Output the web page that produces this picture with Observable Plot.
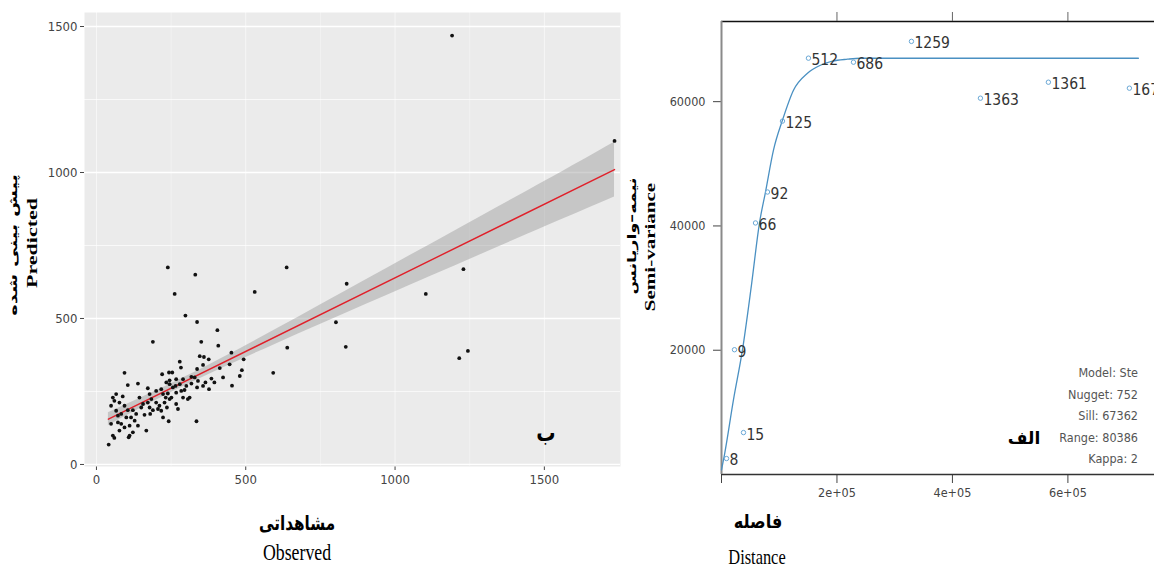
<!DOCTYPE html>
<html><head><meta charset="utf-8">
<script src="https://cdn.jsdelivr.net/npm/d3@7"></script>
<script src="https://cdn.jsdelivr.net/npm/@observablehq/plot@0.6"></script>
<style>
html,body{margin:0;padding:0;background:#fff;overflow:hidden;}
#wrap{position:relative;width:1154px;height:568px;overflow:hidden;background:#fff;}
.pl{position:absolute;top:0;}
.pl svg{max-width:none !important;overflow:visible;}
.t{position:absolute;white-space:nowrap;line-height:1;}
</style></head><body><div id="wrap"></div>
<script>
// ---------- Left panel: observed vs predicted ----------
const observed = [239,331,637,262,530,838,1229,1103,298,337,802,405,189,351,408,639,835,452,493,1215,1244,592,454,335,41,94,346,279,283,360,376,337,357,413,446,487,480,424,385,365,377,220,243,254,267,234,245,265,279,301,318,105,139,172,200,232,245,223,267,284,290,312,267,273,211,206,217,189,180,161,167,242,223,144,172,150,122,133,116,128,111,111,108,77,83,72,55,60,49,55,49,66,88,60,77,94,105,66,83,100,72,94,122,139,178,200,236,228,251,306,295,239,256,217,178,156,184,340,329,318,290,245,337,357,395,1191,1735];
const predicted = [675,650,675,584,591,619,669,584,510,488,487,460,420,420,407,400,403,383,360,364,389,314,270,148,68,314,371,352,332,368,360,327,341,330,343,323,303,298,294,281,258,309,315,315,292,281,275,269,275,269,277,272,277,261,252,229,224,241,246,252,229,229,207,190,201,190,184,186,173,170,116,148,161,229,212,195,186,173,161,150,133,99,93,116,139,144,99,91,139,229,201,241,233,218,212,201,186,184,173,161,167,127,110,133,195,212,195,212,229,224,255,243,264,258,241,207,224,286,298,300,292,288,264,269,281,1469,1108];
const fitObserved = [40, 1735];
const fitPredicted = [155, 1010];
const bandObserved = [40, 300, 600, 900, 1200, 1500, 1735];
const bandLower = [133, 271, 412, 547, 680, 813, 916];
const bandUpper = [177, 301, 462, 631, 800, 969, 1104];
const gridMajor = [0, 500, 1000, 1500];
const gridMinor = [250, 750, 1250];

// ---------- Right panel: variogram ----------
const lagDistance = [8700, 22500, 38100, 58900, 79700, 105600, 150600, 228600, 329000, 448500, 566200, 706500];
const semivariance = [2570, 20080, 6750, 40480, 45460, 56870, 67000, 66350, 69700, 60560, 63130, 62170];
const pairCounts = ["8", "9", "15", "66", "92", "125", "512", "686", "1259", "1363", "1361", "1672"];
const modelDistance = [0, 5200, 20780, 36360, 51950, 65800, 76190, 90040, 105630, 124680, 148920, 171430, 192210, 218180, 240700, 722100];
const modelGamma = [752, 3210, 12050, 20080, 30520, 40480, 45460, 52210, 57030, 61850, 64580, 65860, 66510, 66830, 66990, 66990];
const distTicks = [0, 200000, 400000, 600000];
const distTickLabels = ["", "2e+05", "4e+05", "6e+05"];
const gammaTicks = [20000, 40000, 60000];
const modelInfo = ["Model: Ste", "Nugget: 752", "Sill: 67362", "Range: 80386", "Kappa: 2"];

const wrap = document.getElementById("wrap");
const narrow = '"Liberation Sans Narrow","DejaVu Sans Condensed",sans-serif';

// Left plot
const pts = observed.map((x, i) => ({x, y: predicted[i]}));
const fit = fitObserved.map((x, i) => ({x, y: fitPredicted[i]}));
const band = bandObserved.map((x, i) => ({x, lo: bandLower[i], hi: bandUpper[i]}));

const left = Plot.plot({
  width: 625, height: 500,
  marginLeft: 84, marginRight: 5, marginTop: 12, marginBottom: 34,
  x: {domain: [-40, 1755], ticks: gridMajor, tickFormat: d => String(d), tickSize: 4, tickPadding: 4, label: null},
  y: {domain: [-7, 1548], ticks: gridMajor, tickFormat: d => String(d), tickSize: 4, tickPadding: 3, label: null},
  style: {fontFamily: narrow, fontSize: "13px", color: "#444", background: "transparent"},
  marks: [
    Plot.frame({fill: "#EBEBEB", stroke: "none"}),
    Plot.ruleY(gridMinor, {stroke: "#fff", strokeWidth: 0.7}),
    Plot.ruleY(gridMajor, {stroke: "#fff", strokeWidth: 1.3}),
    Plot.ruleX(gridMinor, {stroke: "#fff", strokeWidth: 0.6, strokeOpacity: 0.6}),
    Plot.ruleX(gridMajor, {stroke: "#fff", strokeWidth: 1.0, strokeOpacity: 0.6}),
    Plot.areaY(band, {x: "x", y1: "lo", y2: "hi", fill: "#9a9a9a", fillOpacity: 0.45, curve: "natural"}),
    Plot.line(fit, {x: "x", y: "y", stroke: "#e0202a", strokeWidth: 1.4}),
    Plot.dot(pts, {x: "x", y: "y", r: 1.9, fill: "#111", stroke: "none"})
  ]
});
const ld = document.createElement("div"); ld.className = "pl"; ld.style.left = "0px";
ld.appendChild(left); wrap.appendChild(ld);

// Right plot
const vg = lagDistance.map((d, i) => ({d, g: semivariance[i], n: pairCounts[i]}));
const model = modelDistance.map((d, i) => ({d, g: modelGamma[i]}));
const yMaxR = 72900;
const right = Plot.plot({
  width: 514, height: 568,
  marginLeft: 81, marginRight: 0, marginTop: 21, marginBottom: 94,
  x: {domain: [0, 750000], ticks: distTicks, tickFormat: d => distTickLabels[distTicks.indexOf(d)], tickSize: 9, tickPadding: 5, label: null},
  y: {domain: [0, yMaxR], ticks: gammaTicks, tickFormat: d => String(d), tickSize: 8, tickPadding: 8, label: null},
  style: {fontFamily: narrow, fontSize: "12.5px", color: "#444", background: "transparent"},
  marks: [
    Plot.ruleY([yMaxR], {stroke: "#111", strokeWidth: 1.5}),
    Plot.ruleY([0], {stroke: "#333", strokeWidth: 1.5}),
    Plot.ruleX([0], {stroke: "#8a8a8a", strokeWidth: 2}),
    Plot.ruleX(distTicks.slice(1), {y1: yMaxR, y2: yMaxR + 1450, stroke: "#666", strokeWidth: 1}),
    Plot.line(model, {x: "d", y: "g", curve: "monotone-x", stroke: "#4a90c2", strokeWidth: 1.3}),
    Plot.dot(vg, {x: "d", y: "g", r: 2.2, stroke: "#6aa8d6", strokeWidth: 1, fill: "none"}),
    Plot.text(vg, {x: "d", y: "g", text: "n", textAnchor: "start", dx: 3, dy: 2, fontSize: 15.5, fill: "#333", fontFamily: narrow})
  ]
});
const rd = document.createElement("div"); rd.className = "pl"; rd.style.left = "640px";
rd.appendChild(right); wrap.appendChild(rd);

// Titles and annotations
function addText(txt, x, y, o) {
  const d = document.createElement("div");
  d.className = "t";
  d.textContent = txt;
  if (o.rtl) d.dir = "rtl";
  d.style.left = x + "px"; d.style.top = y + "px";
  d.style.font = o.font; d.style.color = o.color || "#000";
  const ax = o.anchor === "end" ? "-100%" : "-50%";
  d.style.transform = `translate(${ax},-50%)` + (o.rot ? " rotate(-90deg)" : "") + (o.sx ? ` scaleX(${o.sx})` : "") + (o.sy ? ` scaleY(${o.sy})` : "");
  if (o.anchor === "end") d.style.transformOrigin = "right center";
  wrap.appendChild(d);
}
const arab = '"DejaVu Sans",sans-serif';
const serif = '"Liberation Serif","DejaVu Serif",serif';
addText("پیش بینی شده", 13, 245, {font: `bold 17px ${arab}`, rot: true, rtl: true, sx: 1.15, sy: 0.72});
addText("Predicted", 32, 243, {font: `bold 22px ${serif}`, rot: true, sy: 0.7});
addText("مشاهداتی", 297, 523, {font: `bold 20px ${arab}`, rtl: true, sx: 0.76});
addText("Observed", 297, 552, {font: `24px ${serif}`, sx: 0.74});
addText("ب", 546, 433, {font: `bold 24px ${arab}`, rtl: true, sx: 0.8});

addText("نیمه–واریانس", 632, 236, {font: `bold 16px ${arab}`, rot: true, rtl: true, sx: 1.1, sy: 0.72});
addText("Semi-variance", 650, 247, {font: `bold 21px ${serif}`, rot: true, sy: 0.7});
addText("فاصله", 758, 521, {font: `bold 19px ${arab}`, rtl: true, sx: 0.85});
addText("Distance", 757, 557, {font: `21px ${serif}`, sx: 0.78});
addText("الف", 1024, 438, {font: `bold 17px ${arab}`, rtl: true});
modelInfo.forEach((s, i) => addText(s, 1138, 372 + i * 21.5, {font: `12.5px ${narrow}`, color: "#555", anchor: "end"}));
</script></body></html>
